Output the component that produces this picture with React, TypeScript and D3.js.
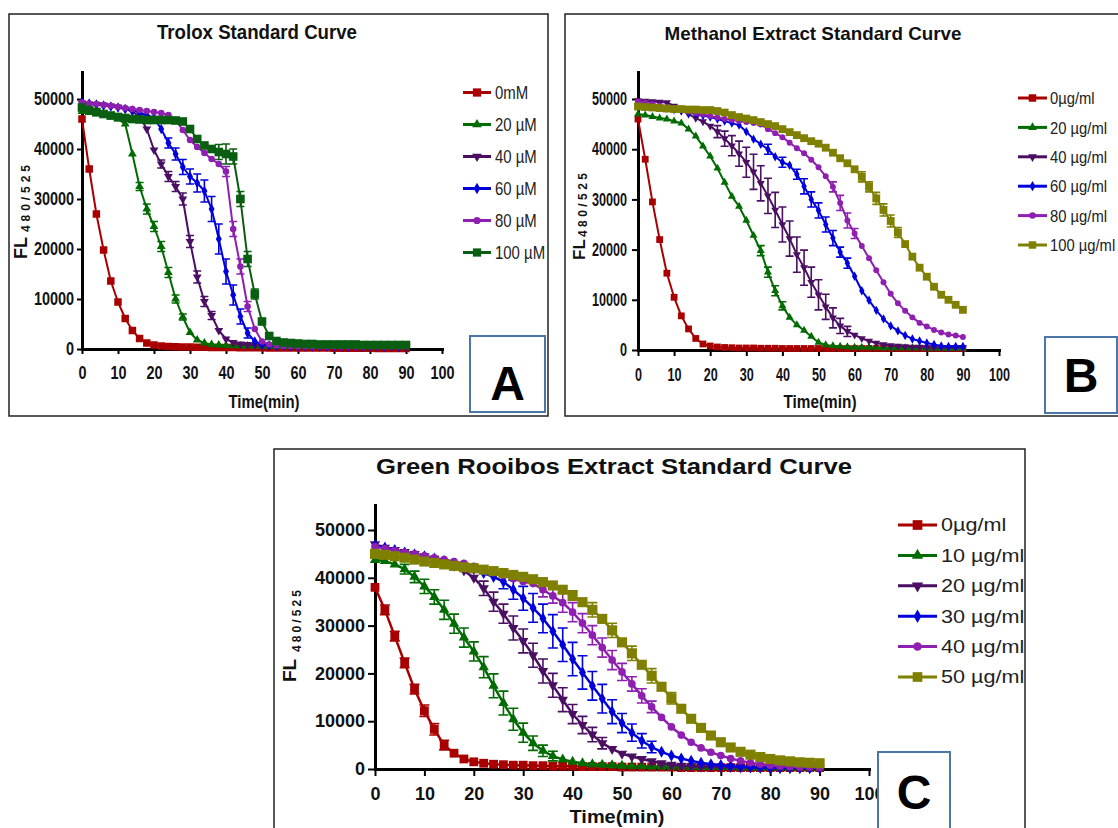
import React, { useEffect, useRef } from "react";
import * as d3 from "d3";

// sampling times (min), shared by all three assays
const times = [
  0, 2, 4, 6, 8, 10, 12, 14, 16, 18, 20, 22, 24, 26, 28, 30, 32, 34, 36, 38, 40, 42, 44,
  46, 48, 50, 52, 54, 56, 58, 60, 62, 64, 66, 68, 70, 72, 74, 76, 78, 80, 82, 84, 86, 88, 90,
];
const xTicks = [0, 10, 20, 30, 40, 50, 60, 70, 80, 90, 100];
const yTicks = [0, 10000, 20000, 30000, 40000, 50000];

// all FL readings below are in thousands
// --- A: Trolox ---
const troloxNames = ["0mM", "20 µM", "40 µM", "60 µM", "80 µM", "100 µM"];
const trolox0 = [
  46, 36, 27, 19.8, 13.6, 9.4, 6.1, 3.7, 2.1, 1.2,
  0.8, 0.6, 0.5, 0.45, 0.4, 0.4, 0.35, 0.35, 0.3, 0.3,
  0.3, 0.3, 0.25, 0.25, 0.25, 0.25, 0.2, 0.2, 0.2, 0.2,
  0.2, 0.2, 0.2, 0.2, 0.2, 0.15, 0.15, 0.15, 0.15, 0.15,
  0.15, 0.1, 0.1, 0.1, 0.1, 0.1,
];
const trolox20 = [
  47.5, 47.3, 47, 46.7, 46.4, 46, 45, 39, 32.5, 28,
  24.5, 20.5, 15.3, 10, 6.4, 3.3, 1.8, 1.2, 0.9, 0.8,
  0.7, 0.7, 0.6, 0.6, 0.6, 0.6, 0.5, 0.5, 0.5, 0.5,
  0.5, 0.5, 0.5, 0.5, 0.5, 0.5, 0.5, 0.5, 0.5, 0.5,
  0.5, 0.5, 0.5, 0.5, 0.5, 0.5,
];
const trolox40 = [
  49.2, 49, 48.9, 48.8, 48.6, 48.4, 48, 47.5, 46.5, 44,
  39.8, 37, 34.5, 32.5, 30, 21.5, 14.4, 9.5, 6.7, 3.7,
  2, 1.3, 1, 0.9, 0.8, 0.7, 0.7, 0.6, 0.6, 0.6,
  0.5, 0.5, 0.5, 0.5, 0.5, 0.5, 0.5, 0.5, 0.5, 0.5,
  0.5, 0.5, 0.5, 0.5, 0.5, 0.5,
];
const trolox60 = [
  49.3, 49.1, 48.9, 48.7, 48.5, 48.3, 48, 47.7, 47.3, 46.8,
  46.2, 44, 41.2, 39, 36.4, 34.5, 33.2, 31.6, 28, 22,
  15.5, 10.8, 6.5, 3.2, 1.5, 0.9, 0.7, 0.6, 0.6, 0.6,
  0.5, 0.5, 0.5, 0.5, 0.5, 0.5, 0.5, 0.5, 0.5, 0.5,
  0.5, 0.5, 0.5, 0.5, 0.5, 0.5,
];
const trolox80 = [
  49.3, 49.1, 49, 48.8, 48.6, 48.4, 48.2, 48, 47.8, 47.6,
  47.4, 47.2, 46.8, 45.8, 43.8, 41.8, 40.4, 39.2, 38, 37,
  35.5, 24, 16.5, 8.5, 4, 1.5, 0.9, 0.7, 0.6, 0.6,
  0.5, 0.5, 0.5, 0.5, 0.5, 0.5, 0.5, 0.5, 0.5, 0.5,
  0.5, 0.5, 0.5, 0.5, 0.5, 0.5,
];
const trolox100 = [
  48.3, 47.8, 47.4, 47, 46.7, 46.4, 46.2, 46, 45.9, 45.8,
  45.8, 45.8, 45.8, 45.7, 45.5, 44, 42, 40.7, 40, 39.4,
  39, 38.5, 30, 18, 11, 5.5, 2.6, 1.6, 1.3, 1.2,
  1.1, 1, 1, 0.9, 0.9, 0.9, 0.9, 0.9, 0.9, 0.8,
  0.8, 0.8, 0.8, 0.8, 0.8, 0.8,
];
// error bars as [time, sd]
const troloxErr0: number[][] = [];
const troloxErr20 = [[16, 0.8], [18, 1], [20, 1], [22, 1], [24, 1], [26, 0.8], [28, 0.6]];
const troloxErr40 = [[22, 0.8], [24, 1], [26, 1], [28, 1.2], [30, 1.2], [32, 1.2], [34, 1], [36, 0.8]];
const troloxErr60 = [
  [24, 1], [26, 1.2], [28, 1.5], [30, 1.5], [32, 1.8], [34, 2.2], [36, 2.5], [38, 3], [40, 2.5],
  [42, 2], [44, 1.5], [46, 1],
];
const troloxErr80 = [[40, 1], [42, 1.5], [44, 1.5], [46, 1]];
const troloxErr100 = [[38, 1.5], [40, 2], [42, 1.5], [44, 1.5], [46, 1.5], [48, 1]];

// --- B: methanol extract ---
const methNames = ["0µg/ml", "20 µg/ml", "40 µg/ml", "60 µg/ml", "80 µg/ml", "100 µg/ml"];
const meth0 = [
  46, 38, 29.5, 22, 15.3, 10.5, 6.8, 4.2, 2.3, 1.2,
  0.8, 0.6, 0.5, 0.45, 0.4, 0.4, 0.4, 0.35, 0.35, 0.35,
  0.3, 0.3, 0.3, 0.3, 0.3, 0.3, 0.3, 0.3, 0.3, 0.3,
  0.3, 0.3, 0.3, 0.3, 0.3, 0.3, 0.3, 0.3, 0.3, 0.3,
  0.3, 0.3, 0.3, 0.3, 0.3, 0.3,
];
const meth20 = [
  47, 46.8, 46.5, 46.2, 46, 45.6, 45.2, 44, 42.6, 40.6,
  38.6, 36.2, 33.4, 30.6, 28.6, 25.8, 22.8, 19.8, 15.5, 11.8,
  8.8, 6.5, 5, 3.9, 2.7, 1.5, 1, 0.8, 0.7, 0.6,
  0.5, 0.5, 0.5, 0.5, 0.4, 0.4, 0.4, 0.4, 0.4, 0.4,
  0.3, 0.3, 0.3, 0.3, 0.3, 0.3,
];
const meth40 = [
  49.7, 49.6, 49.5, 49.4, 49.3, 48.6, 47.8, 47, 46.2, 45.5,
  44.6, 43.5, 42.1, 40.7, 39.1, 37.4, 35.5, 33.2, 30.7, 27.9,
  25, 22.2, 19, 16.4, 13.5, 11, 8.6, 6.4, 4.8, 3.7,
  3, 2.3, 1.8, 1.4, 1.1, 0.9, 0.8, 0.7, 0.6, 0.6,
  0.5, 0.5, 0.5, 0.5, 0.5, 0.5,
];
const meth60 = [
  49.2, 49, 48.8, 48.5, 48.2, 47.9, 47.6, 47.3, 47, 46.7,
  46.4, 46, 45.6, 45.2, 44.8, 43.5, 42, 41, 40, 38.5,
  37.4, 36.8, 35, 32.6, 30, 27.8, 25, 22.3, 19.5, 17.3,
  14.7, 11.8, 9.9, 7.9, 6.2, 4.8, 3.8, 2.9, 2.2, 1.8,
  1.4, 1.1, 0.8, 0.7, 0.7, 0.7,
];
const meth80 = [
  49.5, 49.3, 49, 48.7, 48.4, 48.1, 47.8, 47.5, 47.2, 46.9,
  46.6, 46.3, 46, 45.8, 45.6, 45.4, 45.2, 44.9, 44, 43.2,
  42.4, 41.3, 40.2, 39.2, 37.9, 36.4, 34.6, 32.5, 29.3, 25.8,
  23.2, 20.7, 18.3, 15.9, 13.5, 11.2, 9.3, 7.8, 6.5, 5.4,
  4.7, 4, 3.5, 3.1, 2.9, 2.6,
];
const meth100 = [
  48.5, 48.4, 48.3, 48.2, 48.1, 48, 48, 47.9, 47.9, 47.8,
  47.8, 47.6, 47.3, 46.8, 46.4, 46.1, 45.8, 45.4, 45, 44.6,
  44, 43.4, 42.8, 42.2, 41.6, 41.1, 40.3, 39.3, 38.2, 37.2,
  36, 34.5, 32.5, 30.2, 27.9, 25.7, 23.4, 21.1, 18.6, 16.4,
  14.6, 12.6, 11, 10, 9, 8,
];
const methErr0: number[][] = [];
const methErr20 = [[34, 1], [36, 1], [38, 1], [40, 0.8]];
const methErr40 = [
  [22, 1.2], [24, 1.5], [26, 2], [28, 2.5], [30, 3], [32, 3.5], [34, 3.5], [36, 3.5], [38, 3.5],
  [40, 3.5], [42, 3.5], [44, 3.5], [46, 3.5], [48, 3], [50, 3], [52, 2.5], [54, 2], [56, 1.5], [58, 1],
];
const methErr60 = [
  [36, 1], [40, 1], [44, 1], [46, 1.5], [48, 1.5], [50, 1.5], [52, 1.5], [54, 1.5], [56, 1], [58, 1],
];
const methErr80 = [[54, 1], [56, 1.5], [58, 1.5], [60, 1]];
const methErr100 = [[62, 1], [64, 1], [66, 1.2], [68, 1.2], [70, 1.2], [72, 1]];

// --- C: green rooibos extract ---
const rooiNames = ["0µg/ml", "10 µg/ml", "20 µg/ml", "30 µg/ml", "40 µg/ml", "50 µg/ml"];
const rooi0 = [
  38, 33.3, 27.8, 22.2, 16.7, 12.2, 8.3, 5, 3.3, 2.1,
  1.5, 1.2, 1, 0.9, 0.8, 0.8, 0.7, 0.7, 0.6, 0.6,
  0.6, 0.5, 0.5, 0.5, 0.5, 0.4, 0.4, 0.4, 0.4, 0.4,
  0.4, 0.3, 0.3, 0.3, 0.3, 0.3, 0.3, 0.3, 0.3, 0.3,
  0.3, 0.3, 0.3, 0.3, 0.3, 0.3,
];
const rooi10 = [
  43.7, 43.5, 42.8, 41.8, 40.2, 38.2, 36, 33.3, 30.4, 27.5,
  24.6, 21.3, 17.4, 13.8, 10.4, 7.6, 5.4, 3.8, 2.7, 2,
  1.5, 1.2, 1, 0.9, 0.8, 0.7, 0.6, 0.6, 0.5, 0.5,
  0.5, 0.5, 0.4, 0.4, 0.4, 0.4, 0.4, 0.3, 0.3, 0.3,
  0.3, 0.3, 0.3, 0.3, 0.3, 0.3,
];
const rooi20 = [
  47, 46.3, 45.8, 45.4, 45, 44.5, 44, 43.3, 42.5, 41.5,
  40, 37.8, 35, 32.5, 29.5, 26.8, 23.8, 20.5, 17.5, 14.5,
  11.5, 9.2, 7.2, 5.4, 4.2, 3.2, 2.6, 2.1, 1.6, 1.2,
  0.9, 0.7, 0.6, 0.5, 0.5, 0.4, 0.4, 0.3, 0.3, 0.3,
  0.2, 0.2, 0.2, 0.2, 0.2, 0.2,
];
const rooi30 = [
  46.8, 46.3, 45.8, 45.3, 44.9, 44.5, 44, 43.5, 43, 42.5,
  41.8, 41, 40.2, 39.2, 37.5, 35.7, 33.7, 31.5, 28.8, 26,
  23, 20.2, 17.4, 14.7, 12, 9.6, 7.6, 5.9, 4.6, 3.6,
  2.8, 2.2, 1.7, 1.3, 1, 0.8, 0.6, 0.5, 0.4, 0.3,
  0.25, 0.2, 0.2, 0.2, 0.2, 0.2,
];
const rooi40 = [
  46.5, 46.1, 45.7, 45.3, 45, 44.6, 44.2, 43.8, 43.4, 43,
  42.4, 41.8, 41.1, 40.5, 39.8, 39.2, 38.8, 37.5, 36.2, 34.8,
  32.8, 30.5, 28, 25.4, 22.8, 20.3, 17.8, 15.3, 13, 10.8,
  8.8, 7.1, 5.6, 4.4, 3.5, 2.8, 2.2, 1.7, 1.3, 1,
  0.8, 0.6, 0.5, 0.4, 0.4, 0.3,
];
const rooi50 = [
  45, 44.8, 44.5, 44.2, 43.8, 43.4, 43.1, 42.8, 42.5, 42.2,
  42, 41.7, 41.4, 41, 40.6, 40.2, 39.7, 39.1, 38.4, 37.5,
  36.3, 34.9, 33.3, 31.4, 29, 26.5, 24.2, 21.8, 19.5, 17.2,
  14.8, 12.6, 10.5, 8.6, 7, 5.6, 4.5, 3.6, 3, 2.5,
  2.1, 1.8, 1.6, 1.4, 1.3, 1.2,
];
const rooiErr0 = [[2, 1], [4, 1], [6, 1], [8, 1], [10, 1.2], [12, 1.2], [14, 1]];
const rooiErr10 = [
  [6, 1], [8, 1.2], [10, 1.5], [12, 1.5], [14, 2], [16, 2], [18, 2], [20, 2], [22, 2.2], [24, 2.5],
  [26, 2.5], [28, 2.3], [30, 2], [32, 1.5], [34, 1.2], [36, 1],
];
const rooiErr20 = [
  [22, 1.5], [24, 2], [26, 2], [28, 2.5], [30, 2.5], [32, 2.5], [34, 2.5], [36, 2.5], [38, 2.5],
  [40, 2], [42, 1.8], [44, 1.5], [46, 1.2],
];
const rooiErr30 = [
  [26, 1.5], [28, 2], [30, 2.5], [32, 3], [34, 3], [36, 3.5], [38, 3.5], [40, 3.5], [42, 3.5],
  [44, 3], [46, 3], [48, 2.5], [50, 2], [52, 1.8], [54, 1.5], [56, 1.2],
];
const rooiErr40 = [
  [34, 1.5], [36, 1.5], [38, 2], [40, 2], [42, 2], [44, 2], [46, 2], [48, 2], [50, 1.8], [52, 1.5],
  [54, 1.5], [56, 1.2],
];
const rooiErr50 = [[40, 1], [44, 1.5], [48, 1.5], [52, 1.5], [56, 1.5], [60, 1.2]];

const RED = "#a80000";
const GREEN = "#006b00";
const PLUM = "#4a0f62";
const BLUE = "#0000dd";
const VIOLET = "#8e1fb0";
const FOREST = "#0a5e12";
const OLIVE = "#7f7f00";
const BOXBLUE = "#4a76a8";
const FONT = "'Liberation Sans', Arial, sans-serif";

const shapes = ["square", "up", "down", "diamond", "circle", "square"];

const panels = [
  {
    id: "A",
    title: "Trolox Standard Curve",
    names: troloxNames,
    series: [trolox0, trolox20, trolox40, trolox60, trolox80, trolox100],
    errs: [troloxErr0, troloxErr20, troloxErr40, troloxErr60, troloxErr80, troloxErr100],
    colors: [RED, GREEN, PLUM, BLUE, VIOLET, FOREST],
    frame: [9, 14, 539, 402],
    x0: 82, x1: 442, y0: 349, yTop: 72, yMax: 55400,
    tick: 5, xPad: 12, yPad: 3, tickFont: 18.5, tickScale: 0.78,
    title_: [257, 39, 20, 200],
    xTitle: [264, 408, 18, 71],
    fl: [27, 259, 18], sub: [30, 232, 12, 67],
    marker: 7.5, lineW: 2, cap: 8,
    leg: { x0: 463, x1: 491, tx: 495, y: 92.5, dy: 32, font: 18, sx: 0.83 },
    box: [470, 336, 75, 76, 400],
  },
  {
    id: "B",
    title: "Methanol Extract Standard Curve",
    names: methNames,
    series: [meth0, meth20, meth40, meth60, meth80, meth100],
    errs: [methErr0, methErr20, methErr40, methErr60, methErr80, methErr100],
    colors: [RED, GREEN, PLUM, BLUE, VIOLET, OLIVE],
    frame: [565, 14, 560, 402],
    x0: 638, x1: 999, y0: 350, yTop: 72, yMax: 55380,
    tick: 6, xPad: 12, yPad: 5, tickFont: 18, tickScale: 0.7,
    title_: [813, 40, 19, 297],
    xTitle: [820, 408, 18, 73],
    fl: [585, 260, 17], sub: [587, 237, 12, 64],
    marker: 6.8, lineW: 2, cap: 8,
    leg: { x0: 1018, x1: 1047, tx: 1050, y: 98, dy: 29.4, font: 17, sx: 0.87 },
    box: [1045, 337, 72, 76, 392],
  },
  {
    id: "C",
    title: "Green Rooibos Extract Standard Curve",
    names: rooiNames,
    series: [rooi0, rooi10, rooi20, rooi30, rooi40, rooi50],
    errs: [rooiErr0, rooiErr10, rooiErr20, rooiErr30, rooiErr40, rooiErr50],
    colors: [RED, GREEN, PLUM, BLUE, VIOLET, OLIVE],
    frame: [274, 449, 751, 400],
    x0: 375, x1: 869, y0: 769, yTop: 505, yMax: 55230,
    tick: 7, xPad: 11, yPad: 3, tickFont: 18, tickScale: 1,
    title_: [614, 474, 22, 476],
    xTitle: [617, 823, 19, 95],
    fl: [296, 682, 19], sub: [301, 652, 12, 62],
    marker: 8.8, lineW: 2.5, cap: 10,
    leg: { x0: 898, x1: 937, tx: 941, y: 525, dy: 30.4, font: 18, sx: 1.2 },
    box: [878, 752, 72, 90, 809],
  },
];

function symbolFor(shape: string, m: number) {
  if (shape === "square") return { type: d3.symbolSquare, size: m * m, rot: 0 };
  if (shape === "up") return { type: d3.symbolTriangle, size: m * m * 0.6, rot: 0 };
  if (shape === "down") return { type: d3.symbolTriangle, size: m * m * 0.6, rot: 180 };
  if (shape === "diamond") return { type: d3.symbolDiamond, size: m * m * 0.55, rot: 0 };
  return { type: d3.symbolCircle, size: m * m * 0.6, rot: 0 };
}

function drawPanel(root: any, p: any) {
  const [fx, fy, fw, fh] = p.frame;
  const clipId = `clip-${p.id}`;
  root.append("defs").append("clipPath").attr("id", clipId)
    .append("rect").attr("x", fx).attr("y", fy).attr("width", fw).attr("height", fh);

  root.append("rect").attr("x", fx).attr("y", fy).attr("width", fw).attr("height", fh)
    .attr("fill", "#fff").attr("stroke", "#222").attr("stroke-width", 1.5);

  const g = root.append("g").attr("clip-path", `url(#${clipId})`);

  const x = d3.scaleLinear().domain([0, 100]).range([p.x0, p.x1]);
  const y = d3.scaleLinear().domain([0, p.yMax]).range([p.y0, p.yTop]);

  // title
  const [tx, ty, tfs, tw] = p.title_;
  g.append("text").attr("x", tx).attr("y", ty).attr("text-anchor", "middle")
    .attr("font-family", FONT).attr("font-weight", "bold").attr("font-size", tfs)
    .attr("textLength", tw).attr("lengthAdjust", "spacingAndGlyphs").attr("fill", "#111")
    .text(p.title);

  // axes
  const gx = g.append("g").attr("transform", `translate(0,${p.y0})`)
    .call(d3.axisBottom(x).tickValues(xTicks).tickFormat(d3.format("d"))
      .tickSize(p.tick).tickSizeOuter(0).tickPadding(p.xPad));
  const gy = g.append("g").attr("transform", `translate(${p.x0},0)`)
    .call(d3.axisLeft(y).tickValues(yTicks).tickFormat(d3.format("d"))
      .tickSize(p.tick).tickSizeOuter(0).tickPadding(p.yPad));
  [gx, gy].forEach((a) => {
    a.attr("font-family", FONT).attr("font-size", p.tickFont).attr("font-weight", "bold");
    a.select(".domain").attr("stroke", "#000").attr("stroke-width", 3).attr("stroke-linecap", "square");
    a.selectAll(".tick line").attr("stroke", "#000").attr("stroke-width", 2);
    a.selectAll(".tick text").attr("fill", "#111");
  });
  gx.selectAll(".tick text").attr("transform", `scale(${p.tickScale},1)`);
  gy.selectAll(".tick text").attr("x", 0)
    .attr("transform", `translate(${-(p.tick + p.yPad)},0) scale(${p.tickScale},1)`);

  // axis titles
  const [xtx, xty, xfs, xw] = p.xTitle;
  g.append("text").attr("x", xtx).attr("y", xty).attr("text-anchor", "middle")
    .attr("font-family", FONT).attr("font-weight", "bold").attr("font-size", xfs)
    .attr("textLength", xw).attr("lengthAdjust", "spacingAndGlyphs").attr("fill", "#111")
    .text("Time(min)");
  g.append("text").attr("transform", `translate(${p.fl[0]},${p.fl[1]}) rotate(-90)`)
    .attr("font-family", FONT).attr("font-weight", "bold").attr("font-size", p.fl[2])
    .attr("fill", "#111").text("FL");
  g.append("text").attr("transform", `translate(${p.sub[0]},${p.sub[1]}) rotate(-90)`)
    .attr("font-family", FONT).attr("font-weight", "bold").attr("font-size", p.sub[2])
    .attr("textLength", p.sub[3]).attr("lengthAdjust", "spacing")
    .attr("fill", "#111").text("480/525");

  // series
  const line = d3.line<number>().x((_, i) => x(times[i])).y((v) => y(v * 1000));
  p.series.forEach((vals: number[], si: number) => {
    const col = p.colors[si];
    const sg = g.append("g");
    sg.append("path").attr("d", line(vals)).attr("fill", "none")
      .attr("stroke", col).attr("stroke-width", p.lineW).attr("stroke-linejoin", "round");
    p.errs[si].forEach(([t, sd]: number[]) => {
      const i = times.indexOf(t);
      const cx = x(t);
      const hi = y((vals[i] + sd) * 1000);
      const lo = y(Math.max(0, vals[i] - sd) * 1000);
      const c = p.cap / 2;
      sg.append("path")
        .attr("d", `M${cx},${hi}V${lo}M${cx - c},${hi}H${cx + c}M${cx - c},${lo}H${cx + c}`)
        .attr("stroke", col).attr("stroke-width", 1.6).attr("fill", "none");
    });
    const m = p.marker * (si === 5 ? 1.15 : 1);
    const sym = symbolFor(shapes[si], m);
    sg.selectAll("path.mk").data(vals).join("path").attr("class", "mk")
      .attr("transform", (v: number, i: number) => `translate(${x(times[i])},${y(v * 1000)}) rotate(${sym.rot})`)
      .attr("d", d3.symbol().type(sym.type).size(sym.size)())
      .attr("fill", col);
  });

  // legend
  const L = p.leg;
  p.names.forEach((name: string, si: number) => {
    const col = p.colors[si];
    const ly = L.y + si * L.dy;
    g.append("line").attr("x1", L.x0).attr("x2", L.x1).attr("y1", ly).attr("y2", ly)
      .attr("stroke", col).attr("stroke-width", 3);
    const sym = symbolFor(shapes[si], p.marker * 1.1);
    g.append("path").attr("transform", `translate(${(L.x0 + L.x1) / 2},${ly}) rotate(${sym.rot})`)
      .attr("d", d3.symbol().type(sym.type).size(sym.size)()).attr("fill", col);
    g.append("text").attr("transform", `translate(${L.tx},${ly}) scale(${L.sx},1)`)
      .attr("dy", "0.36em").attr("font-family", FONT).attr("font-size", L.font)
      .attr("fill", "#222").text(name);
  });

  // panel letter box
  const [bx, by, bw, bh, bbase] = p.box;
  g.append("rect").attr("x", bx).attr("y", by).attr("width", bw).attr("height", bh)
    .attr("fill", "#fff").attr("stroke", BOXBLUE).attr("stroke-width", 2);
  g.append("text").attr("x", bx + bw / 2).attr("y", bbase).attr("text-anchor", "middle")
    .attr("font-family", FONT).attr("font-weight", "bold").attr("font-size", 48)
    .attr("fill", "#000").text(p.id);
}

export default function App() {
  const ref = useRef<SVGSVGElement>(null);

  useEffect(() => {
    const svg = d3.select(ref.current);
    svg.selectAll("*").remove();
    panels.forEach((p) => drawPanel(svg, p));
  }, []);

  return (
    <div style={{ position: "absolute", left: 0, top: 0 }}>
      <svg ref={ref} width={1118} height={828} style={{ display: "block", background: "#fff" }} />
    </div>
  );
}
